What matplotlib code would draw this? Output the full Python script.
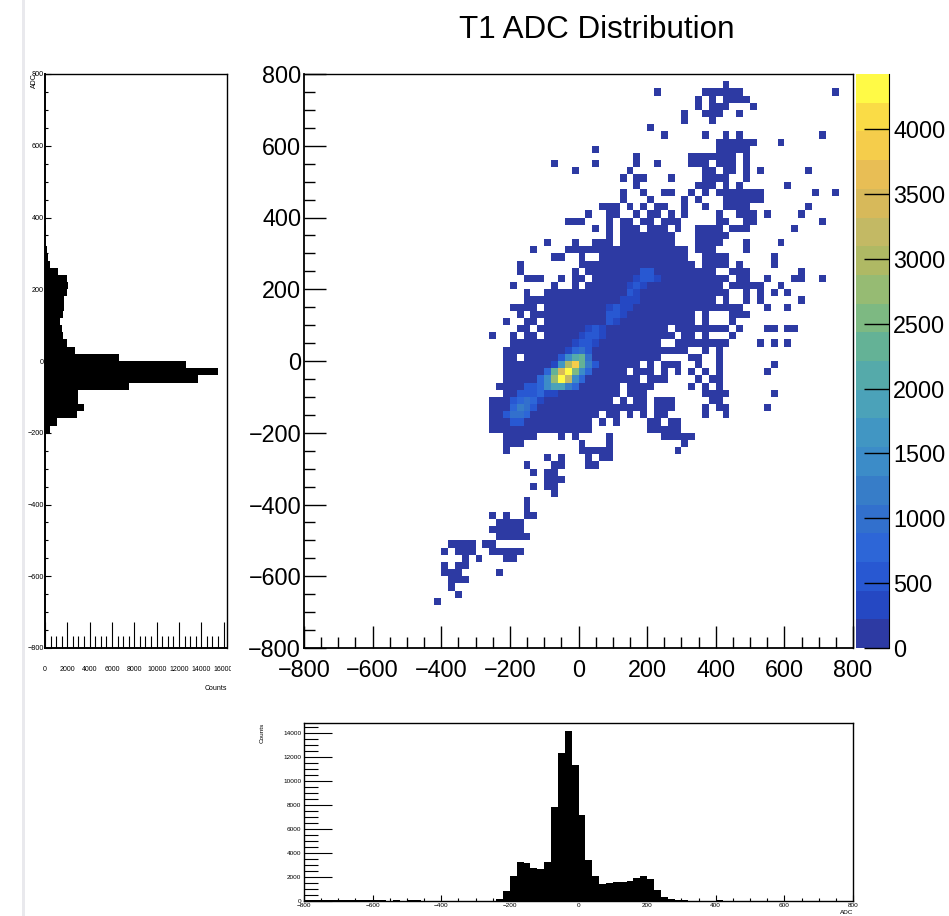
import numpy as np
import matplotlib
matplotlib.use('Agg')
import matplotlib.pyplot as plt
from matplotlib.colors import ListedColormap, BoundaryNorm
from matplotlib.patches import Rectangle
from matplotlib.ticker import MultipleLocator
from matplotlib.transforms import Bbox

plt.rcParams['font.family'] = ['Liberation Sans', 'DejaVu Sans']

W, H = 949, 916

adc_edges = np.arange(-800, 801, 20)
z_max = 4424

# occupied cells per row of the 2D histogram, "a-b" = bin range
filled_rows = {
    6: "19", 7: "22", 8: "21", 9: "21-23", 10: "20-22,28", 11: "20,22-23",
    12: "23,25,29-30", 13: "20,22-24,27-31", 14: "21-24,26-27", 15: "28-32",
    16: "27-31", 17: "28-31", 18: "27,29,32-33", 19: "32", 20: "32", 21: "36",
    22: "33,35-36", 23: "35-37", 24: "33,35-36", 25: "32,36-37,41-42",
    26: "35,37,41,43-44", 27: "29,40-44,54", 28: "29-31,40,44,55",
    29: "29-33,37,39,44,52-56", 30: "27-41,50-54", 31: "27-41,43,45,50-51,53-54",
    32: "27-42,44-45,47,49,51-52,58,61", 33: "27-49,51-53,58,60-61,67",
    34: "27-44,46,48-49,51-53,59-60", 35: "29-45,47-49,58-61,68",
    36: "28-45,47-50,56,58,60", 37: "29-48,50-52,57,59-60",
    38: "29-46,48-50,52,54,56,58,60,67", 39: "29-48,50,52-54,57,60,68",
    40: "29-30,32-51,56-57,60", 41: "29-55,58,60", 42: "30-51,54-61,66,68,70",
    43: "27,30,32-33,35-53,55-56,58,62", 44: "31-32,34-52,54-61,63,67-68,70-71",
    45: "29,32-33,35-56,58,62", 46: "31,33-56,58,62-64", 47: "30-33,35-63,67,70",
    48: "32-59,61,64,66,72", 49: "32,35-61,64,66,68,70",
    50: "30,36,39,41-60,62-66,69", 51: "32-34,37,39-40,42-61,63-64,67,71-72,75",
    52: "31,39,41-59,62-64,72", 53: "31,40-56,58-61,63,68",
    54: "36-37,40,43-55,58-61,68", 55: "33,38-55,57-59,64",
    56: "35,39,42-44,46-53,57-60,64,69", 57: "44,46-53,57-61",
    58: "42,44,46-48,50-52,54,57-60,62-64,71",
    59: "38-40,44,46-47,49-50,52-54,60-61,64-65,75",
    60: "41,44-45,48,50-51,53,55,60,63-65,67,72",
    61: "43-45,47,49,51-52,55,58,61-64,73", 62: "46,50,55,57,61-66",
    63: "46,49,52-53,56,58,60-66,74,77", 64: "48,57-59,61,63,70",
    65: "46,48-49,53,58-61,64", 66: "39,47,58-59,61-62,64,66,73",
    67: "36,42,48,51,56-58,60-62,64", 68: "48,56-62,64", 69: "42,60-64",
    70: "60-65,69", 71: "52,58,61,63,75", 72: "50", 73: "55,59",
    74: "55,58-60,63", 75: "57,59-61,65", 76: "57,59,61-64", 77: "51,58-63,77",
    78: "61",
}
background_counts = 100

# the brighter ridge: row -> (first bin, counts)
ridge_rows = {
    31: (30, [600, 600]),
    32: (29, [500, 900, 1000, 800]),
    33: (30, [800, 1300, 1100, 500]),
    34: (30, [500, 800, 1000, 700, 400]),
    35: (31, [550, 600, 500, 700, 400, 400]),
    36: (32, [500, 500, 800, 1400, 1900, 1800, 1200, 700]),
    37: (34, [700, 1500, 2700, 4420, 3200, 1500, 800]),
    38: (35, [800, 2400, 3500, 4350, 2600, 1500, 800]),
    39: (36, [300, 1700, 2900, 3800, 2400, 1200, 500]),
    40: (37, [500, 1500, 2100, 2300, 900]),
    41: (38, [350, 700, 1000, 600]),
    42: (39, [300, 500, 500, 300]),
    43: (40, [300, 450, 500, 350]),
    44: (41, [250, 450, 400]),
    45: (44, [450, 400]),
    46: (44, [500, 450, 300]),
    47: (44, [300, 450, 400, 250]),
    48: (46, [300, 400, 300]),
    49: (47, [450, 350]),
    50: (47, [350, 500, 400]),
    51: (48, [300, 500, 550, 300]),
    52: (49, [450, 450]),
}

band_colors = [
    '#2d3aa3', '#2548c3', '#2858d2', '#2d66d7', '#3270cd', '#377dc8',
    '#3c8cc8', '#4196c3', '#4ba2b9', '#55aaaa', '#64b296', '#7db982',
    '#96bb73', '#afb964', '#c3b964', '#d7b95a', '#e8be55', '#f5cd4b',
    '#fadc46', '#fffa46',
]

# projections, bottom panel: counts per 20 ADC bin from -800
x_counts = [
    60, 60, 60, 50, 60, 50, 60, 50, 60, 50, 60, 50, 40, 50, 40, 50,
    50, 40, 40, 30, 20, 20, 20, 20, 20, 20, 20, 30, 200, 800, 2050, 3250,
    3150, 2750, 2650, 3250, 7850, 12350, 14100, 11350, 7150, 3400, 2050, 1450, 1500, 1600,
    1550, 1700, 1900, 2100, 1800, 950, 350, 150, 100, 50, 40, 40, 40, 40,
    50, 40, 30, 30, 30, 30, 30, 20, 20, 20, 20, 20, 20, 20, 20, 20,
    20, 20, 20, 20,
]
# left panel: counts per 20 ADC bin from -800
y_counts = [
    30, 20, 20, 20, 20, 20, 20, 20, 20, 20, 20, 30, 30, 30, 30, 30,
    30, 30, 30, 20, 30, 30, 30, 30, 30, 30, 30, 30, 30, 90, 450, 1100,
    2835, 3520, 2985, 2925, 7550, 13670, 15520, 12620, 6625, 2685, 1940, 1640, 1490, 1340,
    1640, 1730, 1730, 1940, 2030, 1940, 1130, 450, 270, 150, 120, 90, 60, 40,
    30, 30, 20, 20, 20, 20, 20, 20, 20, 20, 20, 10, 10, 10, 10, 10,
    10, 10, 10, 10,
]

main_ticks = [-800, -600, -400, -200, 0, 200, 400, 600, 800]
left_count_ticks = list(range(0, 16001, 2000))
bottom_count_ticks = list(range(0, 14001, 2000))
bar_ticks = list(range(0, 4001, 500))


def px_axes(left, top, right, bottom):
    return fig.add_axes([left / W, 1 - bottom / H, (right - left) / W, (bottom - top) / H])


def parse_bins(spec):
    bins = []
    for part in spec.split(','):
        if '-' in part:
            a, b = part.split('-')
            bins.extend(range(int(a), int(b) + 1))
        else:
            bins.append(int(part))
    return bins


counts2d = np.full((80, 80), np.nan)
for row, spec in filled_rows.items():
    counts2d[row, parse_bins(spec)] = background_counts
for row, (first, vals) in ridge_rows.items():
    counts2d[row, first:first + len(vals)] = vals

fig = plt.figure(figsize=(W / 100, H / 100), dpi=100, facecolor='white')
fig.add_artist(Rectangle((22 / W, 0), 3 / W, 1, transform=fig.transFigure, color='#e9e9ed', lw=0))

levels = np.linspace(0, z_max, 21)
cmap = ListedColormap(band_colors)
norm = BoundaryNorm(levels, cmap.N)

# main 2D histogram
ax = px_axes(304, 74, 853, 648)
ax.pcolormesh(adc_edges, adc_edges, np.ma.masked_invalid(counts2d), cmap=cmap, norm=norm)
ax.set_xlim(-800, 800)
ax.set_ylim(-800, 800)
ax.set_xticks(main_ticks)
ax.set_yticks(main_ticks)
ax.xaxis.set_minor_locator(MultipleLocator(50))
ax.yaxis.set_minor_locator(MultipleLocator(50))
ax.tick_params(axis='x', which='major', direction='in', length=16, width=1, labelsize=16.8, pad=8)
ax.tick_params(axis='y', which='major', direction='in', length=16, width=1, labelsize=16.8, pad=2)
ax.tick_params(which='minor', direction='in', length=8, width=1)
for s in ax.spines.values():
    s.set_linewidth(1)
ax.spines['left'].set_linewidth(1.3)
ax.spines['bottom'].set_linewidth(1.3)

# colour bar
cax = px_axes(856, 74, 889, 648)
cax.pcolormesh([0, 1], levels, (levels[:-1] + 1)[:, None], cmap=cmap, norm=norm)
cax.set_ylim(0, z_max)
cax.set_xticks([])
cax.yaxis.tick_right()
cax.set_yticks(bar_ticks)
cax.tick_params(axis='y', direction='in', length=18, width=1, labelsize=16.8, pad=3)
for name in ['left', 'top', 'bottom']:
    cax.spines[name].set_visible(False)

# left projection
lax = px_axes(45, 74, 227, 648)
lax.stairs(y_counts, adc_edges, orientation='horizontal', fill=True, color='black')
lax.set_xlim(0, 16300)
lax.set_ylim(-800, 800)
lax.set_xticks(left_count_ticks)
lax.set_yticks(main_ticks)
lax.xaxis.set_minor_locator(MultipleLocator(500))
lax.yaxis.set_minor_locator(MultipleLocator(50))
lax.tick_params(axis='x', which='major', direction='in', length=19, width=0.8, labelsize=5, pad=13)
lax.tick_params(axis='x', which='minor', direction='in', length=9, width=0.8)
lax.tick_params(axis='y', which='major', direction='in', length=4, width=0.8, labelsize=5.2, pad=1)
lax.tick_params(axis='y', which='minor', direction='in', length=2, width=0.8)
for s in lax.spines.values():
    s.set_linewidth(1)
lax.spines['left'].set_linewidth(1.4)
lax.spines['bottom'].set_linewidth(1.4)
fig.text(227 / W, 1 - 688 / H, 'Counts', fontsize=5, ha='right', va='center')
fig.text(34 / W, 1 - 81 / H, 'ADC', fontsize=5, rotation=90, ha='center', va='center')
fig.canvas.draw()
for lab in lax.get_xticklabels():
    lab.set_clip_box(Bbox.from_extents(0, 0, 231, H))
    lab.set_clip_on(True)

# bottom projection
bax = px_axes(304, 723, 853, 901)
bax.stairs(x_counts, adc_edges, fill=True, color='black')
bax.set_xlim(-800, 800)
bax.set_ylim(0, 14805)
bax.set_xticks(main_ticks)
bax.set_yticks(bottom_count_ticks)
bax.xaxis.set_minor_locator(MultipleLocator(50))
bax.yaxis.set_minor_locator(MultipleLocator(500))
bax.tick_params(axis='x', which='major', direction='in', length=4, width=0.8, labelsize=4.6, pad=1.5)
bax.tick_params(axis='x', which='minor', direction='in', length=2, width=0.8)
bax.tick_params(axis='y', which='major', direction='in', length=20, width=0.8, labelsize=4.6, pad=2)
bax.tick_params(axis='y', which='minor', direction='in', length=10, width=0.8)
for s in bax.spines.values():
    s.set_linewidth(1)
fig.text(853 / W, 1 - 912 / H, 'ADC', fontsize=4.6, ha='right', va='center')
fig.text(262 / W, 1 - 733 / H, 'Counts', fontsize=4.6, rotation=90, ha='center', va='center')

fig.text(597 / W, 1 - 30 / H, 'T1 ADC Distribution', fontsize=22.6, ha='center', va='center')

fig.savefig('out.png', dpi=100)
plt.close()
